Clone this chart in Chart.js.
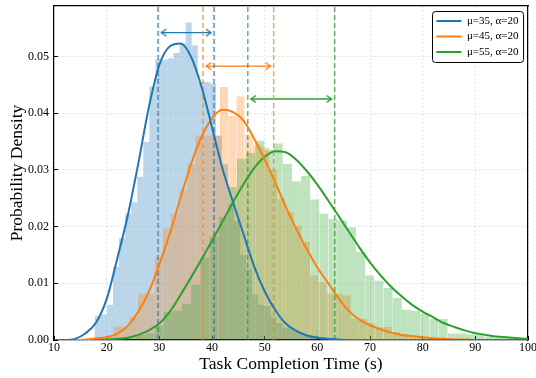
<!DOCTYPE html>
<html>
<head>
<meta charset="utf-8">
<script src="https://cdn.jsdelivr.net/npm/chart.js@4.4.1/dist/chart.umd.min.js"></script>
<style>
    html, body { margin: 0; padding: 0; background: #fff; }
    #wrap { width: 536px; height: 378px; }
</style>
</head>
<body>
<div id="wrap"><canvas id="canva"></canvas></div>
<script>
// ---- data ----
const seriesLabels = ['μ=35, α=20', 'μ=45, α=20', 'μ=55, α=20'];

// histograms: left edge of first bin, bin width, density per bin
const blueBinStart = 17.75, blueBinWidth = 1.15;
const blueHist = [0.0042, 0.0045, 0.0062, 0.0129, 0.0180, 0.0223, 0.0243, 0.0288, 0.0349, 0.0447,
    0.0495, 0.0494, 0.0497, 0.0506, 0.0523, 0.0560, 0.0520, 0.0455, 0.0455, 0.0452,
    0.0360, 0.0310, 0.0240, 0.0210, 0.0150, 0.0125, 0.0080, 0.0062, 0.0060, 0.0040,
    0.0030, 0.0022, 0.0022, 0.0014, 0.0010, 0.0008, 0.0006, 0.0004, 0.0002, 0.0003, 0.0001];

const orangeBinStart = 18.19, orangeBinWidth = 1.555;
const orangeHist = [0.0003, 0.0006, 0.0024, 0.0024, 0.0041, 0.0082, 0.0082, 0.0146, 0.0198, 0.0222,
    0.0264, 0.0311, 0.0361, 0.0361, 0.0361, 0.0446, 0.0395, 0.0430, 0.0362, 0.0345,
    0.0340, 0.0300, 0.0249, 0.0226, 0.0202, 0.0173, 0.0114, 0.0102, 0.0082, 0.0082,
    0.0079, 0.0038, 0.0038, 0.0030, 0.0023, 0.0023, 0.0014, 0.0011, 0.0008, 0.0006,
    0.0004, 0.0003, 0.0002, 0.0001];

const greenBinStart = 22.12, greenBinWidth = 1.74;
const greenHist = [0.0002, 0.0004, 0.0009, 0.0012, 0.0026, 0.0050, 0.0052, 0.0064, 0.0098, 0.0146,
    0.0183, 0.0217, 0.0270, 0.0320, 0.0330, 0.0352, 0.0336, 0.0347, 0.0311, 0.0280,
    0.0289, 0.0248, 0.0223, 0.0214, 0.0211, 0.0199, 0.0155, 0.0114, 0.0105, 0.0092,
    0.0075, 0.0054, 0.0051, 0.0047, 0.0037, 0.0037, 0.0012, 0.0012, 0.0010, 0.0009,
    0.0006, 0.0005, 0.0004, 0.0002];

// fitted density curves
const curveX = [10, 12, 14, 16, 18, 20, 22, 24, 26, 28, 30, 32, 34, 36, 38, 40, 42, 44, 46, 48,
    50, 52, 54, 56, 58, 60, 62, 64, 66, 68, 70, 72, 74, 76, 78, 80, 82, 84, 86, 88,
    90, 92, 94, 96, 98, 100];
const blueCurve = [0, 0, 0.0002, 0.0012, 0.0031, 0.0072, 0.0143, 0.0219, 0.0311, 0.0410,
    0.0485, 0.0518, 0.0523, 0.0500, 0.0447, 0.0375, 0.0302, 0.0243, 0.0186, 0.0130,
    0.0086, 0.0053, 0.0029, 0.0016, 0.0008, 0.0004, 0.0002, 0.0001, 0, 0,
    0, 0, 0, 0, 0, 0, 0, 0, 0, 0, 0, 0, 0, 0, 0, 0];
const orangeCurve = [0, 0, 0, 0.0001, 0.0003, 0.0005, 0.0011, 0.0025, 0.0050, 0.0085,
    0.0133, 0.0188, 0.0250, 0.0310, 0.0358, 0.0391, 0.0406, 0.0402, 0.0387, 0.0355,
    0.0318, 0.0278, 0.0235, 0.0196, 0.0160, 0.0128, 0.0101, 0.0074, 0.0051, 0.0036,
    0.0026, 0.0019, 0.0013, 0.0009, 0.0007, 0.0005, 0.0003, 0.0002, 0.0001, 0.0001,
    0, 0, 0, 0, 0, 0];
const greenCurve = [0, 0, 0, 0, 0, 0.0001, 0.0002, 0.0004, 0.0009, 0.0017,
    0.0029, 0.0050, 0.0079, 0.0110, 0.0142, 0.0175, 0.0209, 0.0243, 0.0275, 0.0303,
    0.0323, 0.0333, 0.0331, 0.0318, 0.0298, 0.0274, 0.0247, 0.0219, 0.0191, 0.0163,
    0.0137, 0.0114, 0.0094, 0.0077, 0.0062, 0.0050, 0.0040, 0.0030, 0.0023, 0.0017,
    0.0012, 0.0009, 0.0006, 0.0005, 0.0003, 0.0002];

// dashed markers and the arrows between them
const blueMarks = [29.75, 40.4];
const orangeMarks = [38.3, 51.7];
const greenMarks = [46.8, 63.3];
const blueArrow = [30.4, 39.8];
const orangeArrow = [38.9, 51.1];
const greenArrow = [47.4, 62.7];
const arrowY = [0.0542, 0.0483, 0.0425];

// axes
const xMin = 10, xMax = 100, xStep = 10;
const yMin = 0, yMax = 0.0589, yStep = 0.01;

// ---- styling ----
const BLUE = '31, 119, 180';
const ORANGE = '255, 127, 14';
const GREEN = '44, 160, 44';
const SERIF = "'Liberation Serif', 'Times New Roman', serif";

Chart.defaults.font.family = SERIF;
Chart.defaults.color = '#000';

function histData(start, width, heights) {
    return heights.map((h, i) => ({ x: start + (i + 0.5) * width, y: h }));
}

function curveData(ys) {
    return curveX.map((x, i) => ({ x: x, y: ys[i] }));
}

function arrowHead(rgb) {
    const c = document.createElement('canvas');
    c.width = 14;
    c.height = 10;
    const g = c.getContext('2d');
    g.strokeStyle = 'rgb(' + rgb + ')';
    g.lineWidth = 1.5;
    g.beginPath();
    g.moveTo(2, 1.5);
    g.lineTo(7, 5);
    g.lineTo(2, 8.5);
    g.stroke();
    return c;
}

function histSet(label, start, width, heights, rgb, axis, order, edge) {
    return {
        type: 'bar',
        label: label,
        data: histData(start, width, heights),
        xAxisID: axis,
        backgroundColor: 'rgba(' + rgb + ', 0.3)',
        borderColor: 'rgba(' + rgb + ', 0.35)',
        borderWidth: edge ? { left: 1, right: 0, top: 0, bottom: 0 } : 0,
        borderSkipped: false,
        inflateAmount: 0,
        barPercentage: 1,
        categoryPercentage: 1,
        grouped: false,
        order: order,
    };
}

function curveSet(label, ys, rgb) {
    return {
        type: 'line',
        label: label,
        data: curveData(ys),
        borderColor: 'rgb(' + rgb + ')',
        backgroundColor: 'rgb(' + rgb + ')',
        borderWidth: 2,
        pointRadius: 0,
        cubicInterpolationMode: 'monotone',
        inLegend: true,
        order: 0,
    };
}

function markSet(x, rgb) {
    return {
        type: 'line',
        label: 'mark',
        data: [{ x: x, y: yMin }, { x: x, y: yMax }],
        borderColor: 'rgba(' + rgb + ', 0.85)',
        borderWidth: 1.3,
        borderDash: [5, 3],
        pointRadius: 0,
        order: 1,
    };
}

function arrowSet(span, y, rgb) {
    const head = arrowHead(rgb);
    return {
        type: 'line',
        label: 'arrow',
        data: [{ x: span[0], y: y }, { x: span[1], y: y }],
        borderColor: 'rgb(' + rgb + ')',
        borderWidth: 1.3,
        pointStyle: head,
        pointRotation: [180, 0],
        pointRadius: 3,
        order: 1,
    };
}

// no extra room for edge tick labels, the plot box is fixed by afterFit
function noPadding(s) {
    s.paddingLeft = 0;
    s.paddingRight = 0;
    s.paddingTop = 0;
    s.paddingBottom = 0;
}

// legend sits inside the plot, top right, with a framed box
const legendBox = {
    id: 'legendBox',
    afterLayout(chart) {
        const lg = chart.legend;
        const area = chart.chartArea;
        const pad = lg.options.labels.padding;
        const col = lg.columnSizes && lg.columnSizes[0];
        if (!col) return;
        const w = col.width + pad * 2;
        lg.frameW = w;
        lg.frameH = col.height + pad;
        lg.right = area.right - 5;
        lg.left = lg.right - w;
        lg.top = area.top + 5;
        lg.bottom = lg.top + lg.frameH + 2;
    },
    afterDraw(chart) {
        const lg = chart.legend;
        if (!lg.frameW) return;
        const ctx = chart.ctx;
        ctx.save();
        ctx.beginPath();
        ctx.roundRect(Math.round(lg.left) + 0.5, Math.round(lg.top) + 0.5, lg.frameW, lg.frameH, 3);
        ctx.fillStyle = 'rgba(255, 255, 255, 0.92)';
        ctx.fill();
        ctx.lineWidth = 1;
        ctx.strokeStyle = '#000';
        ctx.stroke();
        ctx.restore();
        lg.draw();
    },
};

const tickFont = { family: SERIF, size: 12 };
const titleFont = { family: SERIF, size: 17.5 };
const gridColor = 'rgba(0, 0, 0, 0.13)';

const datasets = [
    curveSet(seriesLabels[0], blueCurve, BLUE),
    curveSet(seriesLabels[1], orangeCurve, ORANGE),
    curveSet(seriesLabels[2], greenCurve, GREEN),
    markSet(blueMarks[0], BLUE),
    markSet(blueMarks[1], BLUE),
    markSet(orangeMarks[0], ORANGE),
    markSet(orangeMarks[1], ORANGE),
    markSet(greenMarks[0], GREEN),
    markSet(greenMarks[1], GREEN),
    arrowSet(blueArrow, arrowY[0], BLUE),
    arrowSet(orangeArrow, arrowY[1], ORANGE),
    arrowSet(greenArrow, arrowY[2], GREEN),
    histSet('hist1', greenBinStart, greenBinWidth, greenHist, GREEN, 'xGreen', 2, true),
    histSet('hist2', orangeBinStart, orangeBinWidth, orangeHist, ORANGE, 'xOrange', 3, true),
    histSet('hist3', blueBinStart, blueBinWidth, blueHist, BLUE, 'xBlue', 4, false),
];

const hiddenX = {
    type: 'linear',
    display: false,
    min: xMin,
    max: xMax,
    offset: false,
    grid: { offset: false },
};

const canvas = document.querySelector('#canva').getContext('2d');
new Chart(canvas, {
    type: 'line',
    data: { datasets: datasets },
    plugins: [legendBox],
    options: {
        responsive: true,
        maintainAspectRatio: false,
        animation: false,
        events: [],
        layout: { padding: { top: 6, right: 8, left: 0, bottom: 0 } },
        scales: {
            x: {
                type: 'linear',
                position: 'bottom',
                min: xMin,
                max: xMax,
                ticks: { stepSize: xStep, padding: 5, font: tickFont, color: '#000', maxRotation: 0 },
                grid: { color: gridColor, lineWidth: 0.8, tickLength: -4, tickColor: '#000', tickWidth: 1 },
                border: { color: '#000', width: 1.2, dash: [2, 2] },
                title: {
                    display: true,
                    text: 'Task Completion Time (s)',
                    font: titleFont,
                    color: '#000',
                    padding: { top: 0, bottom: 3 },
                },
                afterFit: (s) => { s.height = 38; noPadding(s); },
            },
            y: {
                type: 'linear',
                position: 'left',
                min: yMin,
                max: yMax,
                ticks: {
                    stepSize: yStep,
                    includeBounds: false,
                    padding: 9,
                    font: tickFont,
                    color: '#000',
                    callback: (v) => v.toFixed(2),
                },
                grid: { color: gridColor, lineWidth: 0.8, tickLength: -4, tickColor: '#000', tickWidth: 1 },
                border: { color: '#000', width: 1.2, dash: [2, 2] },
                title: {
                    display: true,
                    text: 'Probability Density',
                    font: titleFont,
                    color: '#000',
                    padding: { top: 7, bottom: 0 },
                },
                afterFit: (s) => { s.width = 54; noPadding(s); },
            },
            xTop: {
                type: 'linear',
                position: 'top',
                min: xMin,
                max: xMax,
                ticks: { display: false },
                grid: { display: false, drawTicks: false },
                border: { color: '#000', width: 1.2 },
                afterFit: (s) => { s.height = 0; noPadding(s); },
            },
            yRight: {
                type: 'linear',
                position: 'right',
                min: yMin,
                max: yMax,
                ticks: { display: false },
                grid: { display: false, drawTicks: false },
                border: { color: '#000', width: 1.2 },
                afterFit: (s) => { s.width = 0; noPadding(s); },
            },
            xBlue: hiddenX,
            xOrange: Object.assign({}, hiddenX),
            xGreen: Object.assign({}, hiddenX),
        },
        plugins: {
            tooltip: { enabled: false },
            legend: {
                display: true,
                position: 'chartArea',
                align: 'start',
                labels: {
                    font: { family: SERIF, size: 11 },
                    color: '#000',
                    padding: 4.5,
                    usePointStyle: true,
                    pointStyle: 'line',
                    pointStyleWidth: 25,
                    filter: (item, data) => !!data.datasets[item.datasetIndex].inLegend,
                },
            },
        },
    },
});
</script>
</body>
</html>
